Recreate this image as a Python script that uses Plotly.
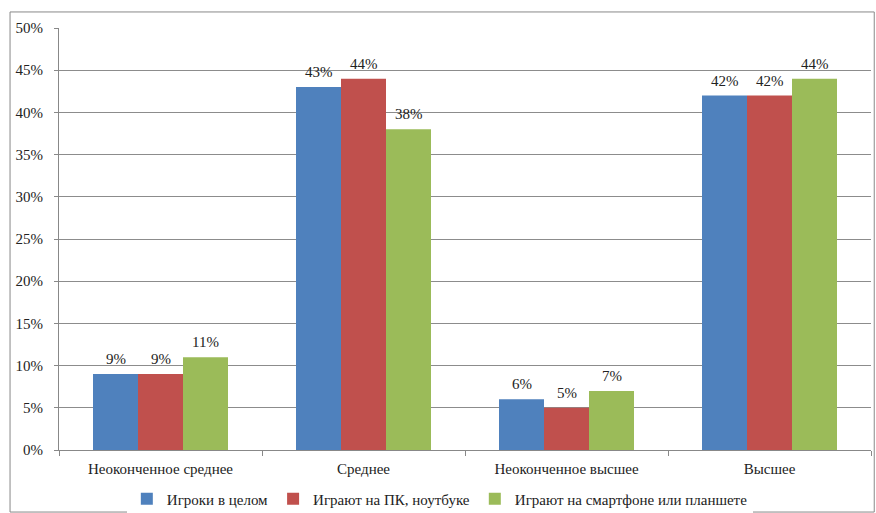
import plotly.graph_objects as go

categories = ["Неоконченное среднее", "Среднее", "Неоконченное высшее", "Высшее"]
series_names = ["Игроки в целом", "Играют на ПК, ноутбуке", "Играют на смартфоне или планшете"]
players_total = [9, 43, 6, 42]
players_pc = [9, 44, 5, 42]
players_mobile = [11, 38, 7, 44]
y_ticks = [0, 5, 10, 15, 20, 25, 30, 35, 40, 45, 50]
colors = ["#4F81BD", "#C0504D", "#9BBB59"]
label_shifts = [-45, 0, 45]

font = "Liberation Serif, Times New Roman, serif"
fs = 15
fig = go.Figure()
for name, vals, c, sh in zip(series_names, [players_total, players_pc, players_mobile], colors, label_shifts):
    fig.add_trace(go.Bar(
        x=categories, y=vals, name=name, marker=dict(color=c, line=dict(width=0)),
    ))
    for cat, v in zip(categories, vals):
        fig.add_annotation(x=cat, y=v, xref="x", yref="y", text=f"{v}%",
                           showarrow=False, xshift=sh, yshift=5, yanchor="bottom",
                           font=dict(family=font, size=fs, color="#222"))

fig.update_layout(
    width=876, height=513,
    margin=dict(l=59, r=5, t=28, b=63, autoexpand=False),
    paper_bgcolor="white", plot_bgcolor="white",
    barmode="group", bargap=0.335, bargroupgap=0,
    font=dict(family=font, size=fs, color="#222"),
    showlegend=True,
    legend=dict(orientation="h", x=0.469, xanchor="center", y=-0.116, yanchor="middle",
                font=dict(family=font, size=fs), traceorder="normal"),
    xaxis=dict(showline=True, linecolor="#888", linewidth=1, ticks="outside",
               tickson="boundaries", ticklen=5, tickcolor="#888",
               ticklabelstandoff=5, automargin=False,
               tickfont=dict(family=font, size=fs)),
    yaxis=dict(range=[0, 50], tickvals=y_ticks, ticktext=[f"{v}%" for v in y_ticks],
               showgrid=True, gridcolor="#8c8c8c", gridwidth=1,
               showline=True, linecolor="#888", ticks="outside", ticklen=4,
               ticklabelstandoff=8, automargin=False,
               tickcolor="#888", tickfont=dict(family=font, size=fs), zeroline=False),
)
fig.add_shape(type="rect", xref="paper", yref="paper",
              x0=-0.0603, x1=1.004, y0=-0.147, y1=1.038,
              line=dict(color="#888", width=1), layer="below")
fig.write_html("out.html")
